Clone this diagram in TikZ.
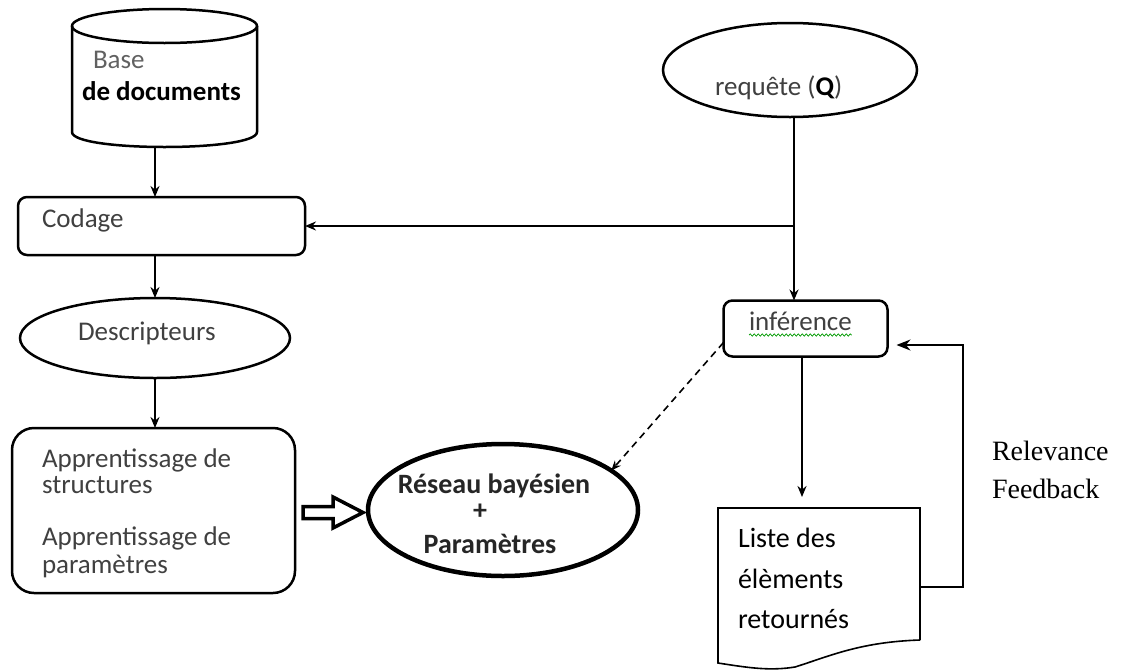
\documentclass[tikz,border=0pt]{standalone}
\usepackage{fontspec}
\setmainfont{Carlito}
\newfontfamily\serifrm{Liberation Serif}
\usetikzlibrary{arrows.meta,shapes.geometric,calc,decorations.pathmorphing}
\definecolor{inkgrey}{gray}{0.25}
\definecolor{softgrey}{gray}{0.38}
\begin{document}
\begin{tikzpicture}[x=1pt,y=-1pt,
  every node/.style={inner sep=0pt, outer sep=0pt},
  lbl/.style={font=\fontsize{27}{30}\selectfont, text=inkgrey, anchor=base west},
  doclbl/.style={font=\fontsize{28}{32}\selectfont, text=black, anchor=base west},
  rblbl/.style={font=\bfseries\fontsize{28}{32}\selectfont, text=black!85, anchor=base},
  fblbl/.style={font=\serifrm\fontsize{28}{32}\selectfont, text=black, anchor=base west},
  stepbox/.style={draw, line width=2.5pt, rounded corners=9pt},
  oval/.style={draw, ellipse, line width=2.5pt},
  link/.style={line width=2.2pt, -{Stealth[length=11pt,width=9pt]}},
]
\useasboundingbox (0,0) rectangle (1125,670);

% document base (cylinder)
\node (db) [minimum width=185, minimum height=140] at (164.5,78) {};
\draw[line width=2.5pt] (72,26) -- (72,132) .. controls (72,152) and (257,152) .. (257,132) -- (257,26);
\draw[line width=2.5pt] (164.5,26) ellipse[x radius=92.5, y radius=17];
\node (dbbase) [lbl, text=softgrey] at (93,68) {Base};
\node (dbdocs) [lbl, text=black, font=\bfseries\fontsize{27}{30}\selectfont] at (82,100) {de documents};

% coding
\node (codage) [stepbox, minimum width=287, minimum height=58] at (161.5,226) {};
\node (codaget) [lbl] at (42,227) {Codage};

% descriptors
\node (desc) [oval, minimum width=270, minimum height=80] at (155,338) {};
\node (desct) [lbl] at (78,340) {Descripteurs};

% learning
\node (app) [stepbox, rounded corners=22pt, minimum width=283, minimum height=165] at (153.5,510.5) {};
\node (app1) [lbl] at (42,467) {Apprentissage de};
\node (app2) [lbl] at (42,493) {structures};
\node (app3) [lbl] at (42,545) {Apprentissage de};
\node (app4) [lbl] at (42,573) {paramètres};

% Bayesian network
\node (rb) [draw, ellipse, line width=4.5pt, minimum width=270, minimum height=132] at (503,510) {};
\node (rb1) [rblbl] at (494,493) {Réseau bayésien};
\node (rb2) [rblbl] at (480,519) {+};
\node (rb3) [rblbl] at (490,553) {Paramètres};

% query
\node (req) [oval, minimum width=254, minimum height=94] at (790,70) {};
\node (reqt) [lbl] at (715,95) {requête (\textbf{\color{black}Q})};

% inference
\node (inf) [stepbox, minimum width=164, minimum height=56] at (805.5,328.5) {};
\node (inft) [lbl] at (749,330) {inférence};
\draw[green!60!black, line width=0.7pt, decorate,
      decoration={snake, amplitude=1.2pt, segment length=4pt}]
  ($(inft.base west)+(0,5)$) -- ($(inft.base east)+(0,5)$);

% returned list (document shape)
\node (liste) [minimum width=202, minimum height=132] at (819,574) {};
\draw[line width=1.6pt, line join=miter]
  (liste.south east) -- (liste.north east) -- (liste.north west) -- (718,663)
  .. controls (750,668) and (770,671) .. (795,667)
  .. controls (830,656) and (860,642) .. (liste.south east);
\node (l1) [doclbl] at (738,547) {Liste des};
\node (l2) [doclbl] at (738,588) {élèments};
\node (l3) [doclbl] at (738,628) {retournés};

% feedback label
\node (rf1) [fblbl] at (992,460) {Relevance};
\node (rf2) [fblbl] at (992,498) {Feedback};

% connectors, left column
\coordinate (lx) at (155,0);
\draw[link] (db.south -| lx) -- (codage.north -| lx);
\draw[link] (codage.south -| lx) -- (desc.north -| lx);
\draw[link] (desc.south -| lx) -- (app.north -| lx);

% hollow arrow from learning to network
\coordinate (dA) at ($(app.east)+(8,2)$);
\coordinate (dB) at ($(rb.west)+(-5,2.5)$);
\draw[line width=3.5pt, fill=white, line join=miter]
  ($(dA)+(0,-6)$) -- ($(dB)+(-30,-6)$) -- ($(dB)+(-30,-15.5)$) -- (dB)
  -- ($(dB)+(-30,15.5)$) -- ($(dB)+(-30,6)$) -- ($(dA)+(0,6)$) -- cycle;

% connectors, right column
\coordinate (qx) at (794,0);
\draw[link] (req.south -| qx) -- (inf.north -| qx);
\draw[link] (qx |- codage.east) -- (codage.east);
\coordinate (ox) at (802,0);
\draw[link, shorten >=11pt] (inf.south -| ox) -- (liste.north -| ox);

% relevance feedback loop
\coordinate (fx) at (963,0);
\draw[line width=1.6pt, -{Stealth[length=14pt,width=11pt]}, shorten >=9pt]
  (liste.east |- 0,587) -| (fx |- 0,345) -- (inf.east |- 0,345);

% inference to network
\draw[line width=1.6pt, dash pattern=on 7pt off 5pt, -{Stealth[length=10pt,width=8pt]}]
  ($(inf.south west)+(0,-14)$) -- (rb.20);
\end{tikzpicture}
\end{document}
